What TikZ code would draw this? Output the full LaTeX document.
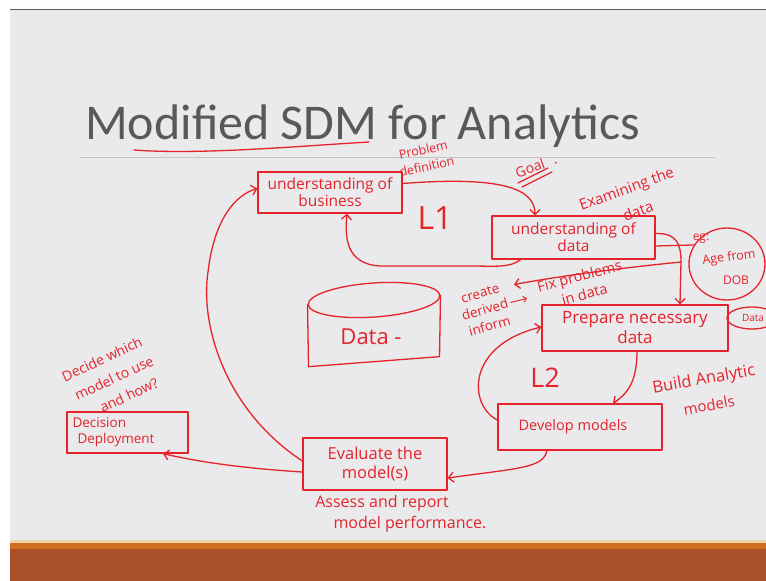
\documentclass[tikz,border=0pt]{standalone}
\usepackage{fontspec}
\setmainfont{Carlito}
\newfontfamily\hand{Open Sans}
\usetikzlibrary{arrows.meta,shapes.geometric}
\definecolor{ink}{HTML}{E5232B}
\definecolor{slidebg}{HTML}{EAEAEC}
\definecolor{topline}{HTML}{5A5A5A}
\definecolor{titlegray}{HTML}{595959}
\definecolor{rulegray}{HTML}{C4C4C6}
\definecolor{barlight}{HTML}{F2D2A8}
\definecolor{barorange}{HTML}{D26E22}
\definecolor{barbrown}{HTML}{A9522A}
\newcommand\hf[2]{\hand\fontsize{#1}{#2}\selectfont}
\begin{document}
\begin{tikzpicture}[x=1pt,y=-1pt,
  hl/.style={draw=ink,line width=1.3pt,line cap=round,line join=round},
  arr/.style={hl,-{Straight Barb[length=5pt,width=10pt]}},
  box/.style={hl,rectangle,inner sep=0pt,align=center,text=ink},
  ht/.style={text=ink,inner sep=0pt,align=center}]
\useasboundingbox (0,0) rectangle (766,581);
\clip (0,0) rectangle (766,581);
% slide background
\fill[white] (0,0) rectangle (766,581);
\fill[slidebg] (10,10) rectangle (766,541);
\draw[topline,line width=1.5pt] (10,9.5) -- (766,9.5);
\fill[barlight] (10,540) rectangle (766,543);
\fill[barorange] (10,543) rectangle (766,549);
\fill[barbrown] (10,549) rectangle (766,581);
% title
\node[anchor=base west,inner sep=0pt,text=titlegray,font=\fontsize{50}{50}\selectfont] (title) at (85,139) {Modified SDM for Analytics};
\draw[rulegray,line width=0.8pt] (80,157) -- (715,157);
\draw[hl] (134,150) .. controls (200,155) and (300,146) .. (369,142);
% boxes
\node[box,minimum width=144pt,minimum height=41pt,font=\hf{15.5}{17}] (biz) at (330,192.5) {understanding of\\business};
\node[box,minimum width=163pt,minimum height=43pt,font=\hf{15.5}{17}] (udata) at (573.5,237.5) {understanding of\\data};
\node[box,minimum width=186pt,minimum height=46pt,font=\hf{17}{20}] (prep) at (635,328) {Prepare necessary\\data};
\node[box,minimum width=164pt,minimum height=46pt,font=\hf{14.5}{17}] (dev) at (580,427) {Develop models\hspace{14pt}};
\node[box,minimum width=144pt,minimum height=52pt,font=\hf{16.5}{19}] (eval) at (375,464) {Evaluate the\\model(s)};
\node[box,minimum width=121pt,minimum height=41pt,text width=110pt,align=left,font=\hf{13.5}{16}] (dec) at (127.5,432.5) {Decision\\\hspace*{5pt}Deployment};
% circle and small oval
\node[hl,ellipse,minimum width=76pt,minimum height=72pt,inner sep=0pt] (egc) at (727,264) {};
\node[ht,font=\hf{12}{13}] (eg1) at (701,239) {eg:};
\node[ht,font=\hf{12.5}{13},rotate=8] (eg2) at (729,258) {Age from};
\node[ht,font=\hf{12}{13}] (eg3) at (736,280) {DOB};
\node[hl,ellipse,minimum width=50pt,minimum height=22pt,inner sep=0pt] (dataov) at (752,318) {};
\node[ht,font=\hf{10}{11}] (dataovt) at (753,318) {Data};
% cylinder
\node[hl,ellipse,minimum width=132pt,minimum height=34pt,inner sep=0pt,rotate=4] (cyltop) at (374,300) {};
\draw[hl] (cyltop.west) -- ++(1,62) -- ++(131,-10) -- (cyltop.east);
\node[ht,font=\hf{22}{24}] (cyl) at (371,337) {Data -};
% loop labels
\node[ht,font=\hf{32}{34}] (L1) at (435,218) {L1};
\node[ht,font=\hf{27}{29}] (L2) at (545,378) {L2};
% annotations
\node[ht,font=\hf{12.5}{17},rotate=12] (probdef) at (425,158) {Problem\\definition};
\node[ht,font=\hf{14}{16},rotate=20] (goal) at (536,166) {Goal\hspace{9pt}.};
\draw[hl] (518,183) -- (548,168);
\draw[hl] (522,187) -- (552,172);
\node[ht,font=\hf{15}{17},rotate=20] (exam) at (627,190) {Examining the};
\node[ht,font=\hf{15}{17},rotate=20] (exam2) at (638,211) {data};
\node[ht,font=\hf{13.5}{17},rotate=16] (cre) at (485,310) {create\\derived\\inform};
\node[ht,font=\hf{14.5}{19},rotate=15] (fix) at (582,285) {Fix problems\\in data};
\node[ht,font=\hf{16.5}{18},rotate=10] (build) at (704,380) {Build Analytic};
\node[ht,font=\hf{15}{17},rotate=10] (build2) at (709,405) {models};
\node[ht,font=\hf{14}{16},rotate=25] (dec1) at (102,359) {Decide which};
\node[ht,font=\hf{14}{16},rotate=25] (dec2) at (114,378) {model to use};
\node[ht,font=\hf{14}{16},rotate=25] (dec3) at (129,395) {and how?};
\node[ht,font=\hf{16}{18}] (ass1) at (382,503) {Assess and report};
\node[ht,font=\hf{16}{18}] (ass2) at (410,524) {model performance.};
% connectors
\coordinate (jn) at (681,262);
\draw[arr] ([yshift=9pt]biz.east) .. controls (500,176) and (535,188) .. ([xshift=-38.5pt]udata.north);
\draw[arr] ([xshift=-53pt]udata.south) .. controls (510,268) and (495,266) .. (470,266) -- (380,266) .. controls (345,264) and (345,236) .. ([xshift=17pt]biz.south);
\draw[arr] ([yshift=4pt]udata.east) .. controls (676,233) and (681,243) .. (jn) -- ([xshift=45pt]prep.north);
\draw[hl] ([yshift=-8.5pt]udata.east) -- (egc.150);
\draw[arr] (jn) .. controls (620,268) and (560,276) .. ([xshift=12pt,yshift=-2pt]cre.north east);
\draw[hl,-{Straight Barb[length=3pt,width=6pt]},line width=1pt] ([xshift=3pt,yshift=1pt]cre.east) -- ++(16,-4);
\draw[arr] ([xshift=2pt]prep.south) .. controls (637,385) and (625,395) .. ([xshift=33pt]dev.north);
\draw[arr] ([yshift=7pt]dev.west) .. controls (468,405) and (466,345) .. ([yshift=1pt]prep.west);
\draw[arr] ([xshift=-33pt]dev.south) .. controls (543,468) and (520,468) .. ([yshift=-14pt]eval.east);
\draw[arr] ([yshift=3pt]eval.west) .. controls (225,410) and (200,325) .. (208,272) .. controls (214,220) and (235,195) .. ([yshift=4pt]biz.west);
\draw[arr] ([yshift=-8pt]eval.west) .. controls (240,468) and (200,462) .. ([xshift=35.5pt]dec.south);
\end{tikzpicture}
\end{document}
